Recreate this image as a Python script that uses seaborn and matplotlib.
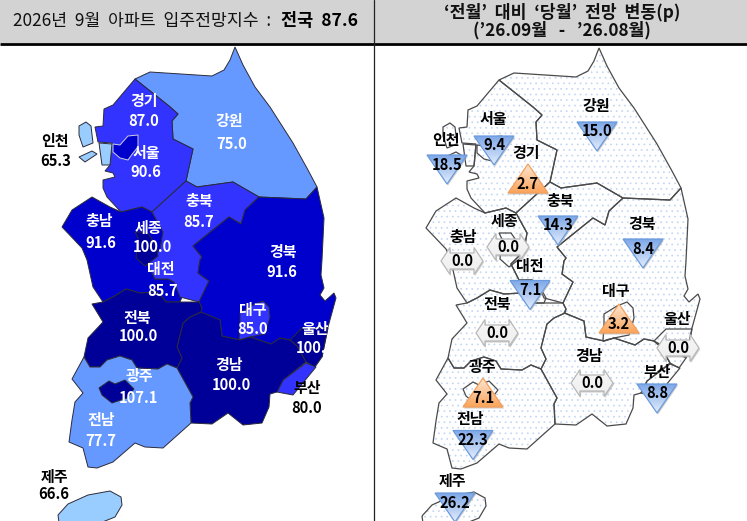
import numpy as np
import pandas as pd
import matplotlib
matplotlib.use("Agg")
import matplotlib.pyplot as plt
from matplotlib.markers import MarkerStyle
from matplotlib.patches import Polygon, Rectangle
from matplotlib.path import Path
import seaborn as sns

sns.set_theme(style="white")
plt.rcParams['font.family'] = ['Noto Sans CJK KR', 'DejaVu Sans']
plt.rcParams['hatch.linewidth'] = 0.5

# ---- data -------------------------------------------------------------
regions = ["강원", "경기", "인천", "충남", "충북", "세종", "대전", "경북", "대구", "울산",
           "부산", "경남", "전북", "전남", "광주", "서울", "제주"]
index_values = [75.0, 87.0, 65.3, 91.6, 85.7, 100.0, 85.7, 91.6, 85.0, 100.0,
                80.0, 100.0, 100.0, 77.7, 107.1, 90.6, 66.6]
changes = [-15.0, 2.7, -18.5, 0.0, -14.3, 0.0, -7.1, -8.4, 3.2, 0.0,
           -8.8, 0.0, 0.0, -22.3, 7.1, -9.4, -26.2]
header_left = "2026년  9월  아파트  입주전망지수  :"
header_left_bold = "전국  87.6"
header_right = ["‘전월’  대비  ‘당월’  전망  변동(p)", "(’26.09월   -   ’26.08월)"]

# region outlines (map geography, in picture pixels)
outline = {
    "강원": [(135,79),(150,72),(212,76),(224,70),(230,60),(235,47),(243,65),(255,87),(270,107),(293,143),(308,170),(317,187),(306,199),(259,197),(233,182),(197,187),(186,181),(193,149),(173,139),(172,121),(178,114),(169,106)],
    "경기": [(135,79),(169,106),(178,114),(172,121),(173,139),(193,149),(186,181),(152,212),(142,207),(121,212),(107,197),(103,188),(103,180),(115,177),(113,173),(105,171),(110,165),(112,143),(98,142),(95,127),(103,126),(104,109),(113,105)],
    "서울": [(113,144),(120,145),(128,136),(138,135),(138,147),(133,153),(128,160),(120,158),(113,152)],
    "인천": [[(79,126),(86,122),(91,126),(93,143),(83,147),(79,135)],[(79,157),(92,151),(97,154),(85,162)],[(99,143),(112,144),(110,165),(102,165)]],
    "충남": [(152,212),(142,207),(121,212),(110,207),(92,197),(72,210),(62,227),(82,248),(87,260),(93,287),(103,302),(113,297),(126,289),(140,293),(157,292),(163,298),(166,302),(180,302),(182,297),(174,282),(168,279),(155,279),(147,263),(160,250),(163,232)],
    "충북": [(186,181),(197,187),(233,182),(259,197),(245,210),(241,224),(229,217),(193,246),(202,257),(200,260),(198,273),(209,281),(199,302),(180,297),(174,282),(168,279),(155,279),(147,263),(160,250),(163,232),(152,212)],
    "세종": [(135,232),(138,238),(136,258),(145,266),(158,256),(156,245),(147,232)],
    "대전": [(147,263),(155,279),(168,279),(163,262),(158,256)],
    "경북": [(259,197),(306,199),(317,187),(324,218),(322,260),(321,275),(324,288),(320,295),(325,301),(334,293),(336,298),(328,327),(322,357),(290,340),(280,338),(271,344),(250,337),(240,340),(222,336),(220,320),(200,312),(202,308),(199,302),(209,281),(198,273),(200,260),(202,257),(193,246),(229,217),(241,224),(245,210)],
    "대구": [(240,313),(253,305),(263,301),(269,307),(270,317),(265,334),(250,337),(239,340),(240,323)],
    "울산": [(290,340),(302,328),(328,328),(322,357),(315,367),(306,362),(297,346)],
    "부산": [(306,363),(316,367),(293,395),(277,392),(283,380)],
    "경남": [(201,312),(220,320),(222,336),(240,340),(250,337),(271,344),(280,338),(290,340),(297,346),(306,362),(283,380),(277,392),(270,394),(269,407),(262,423),(243,425),(228,413),(212,424),(191,423),(190,403),(193,397),(177,368),(182,358),(177,347),(183,323),(190,317)],
    "전북": [(92,304),(103,302),(113,297),(126,289),(140,293),(157,292),(163,298),(166,302),(199,302),(202,308),(201,312),(190,317),(183,323),(177,347),(182,358),(177,368),(167,364),(158,369),(137,368),(132,360),(120,356),(107,360),(100,367),(90,367),(84,357),(88,338),(103,322)],
    "전남": [(84,357),(90,367),(100,367),(107,360),(120,356),(132,360),(137,368),(158,369),(167,364),(177,368),(193,397),(190,403),(191,423),(163,448),(145,447),(135,443),(113,462),(97,468),(88,467),(83,448),(69,442),(72,420),(75,402),(83,393),(72,379)],
    "광주": [(99,388),(109,381),(115,384),(125,380),(134,389),(127,398),(112,403),(102,395)],
    "제주": [(58,515),(68,504),(88,495),(110,491),(121,497),(122,505),(115,517),(100,523),(60,530)],
}

# ---- layout -----------------------------------------------------------
W, H = 747, 521
DX, DY = 364, 1
draw_order = ["강원", "경기", "인천", "충남", "충북", "세종", "경북", "대구", "울산", "부산",
              "경남", "전북", "전남", "광주", "서울", "제주"]
dark_labels = {"인천", "부산", "제주"}
left_name_xy = {"경기": (144,101), "강원": (229,121), "서울": (146,153), "인천": (55,141), "충북": (199,201),
                "충남": (99,221), "세종": (148,228), "경북": (283,252), "대전": (161,269), "대구": (253,310),
                "전북": (137,318), "울산": (315,329), "경남": (229,365), "광주": (139,376), "전남": (101,420),
                "부산": (307,388), "제주": (54,477)}
left_value_xy = {"경기": (144,121), "강원": (232,144), "서울": (146,172), "인천": (56,161), "충북": (199,222),
                 "충남": (101,243), "세종": (152,247), "경북": (282,272), "대전": (163,291), "대구": (253,329),
                 "전북": (138,336), "울산": (315,348), "경남": (231,385), "광주": (138,398), "전남": (101,441),
                 "부산": (307,408), "제주": (54,494)}
right_name_xy = {"강원": (596,106), "서울": (493,119), "경기": (526,153), "인천": (446,140), "충북": (560,201),
                 "경북": (642,224), "세종": (504,221), "충남": (463,237), "대전": (530,266), "전북": (497,304),
                 "대구": (616,291), "울산": (677,319), "경남": (589,356), "부산": (657,372), "광주": (482,367),
                 "전남": (470,419), "제주": (452,481)}
mark_xy = {"강원": (597,136.5), "서울": (494,150.5), "경기": (528,178.5), "인천": (447,169.5), "충북": (558,230.5),
           "경북": (643,253.5), "세종": (508,247), "충남": (462,261), "대전": (530,295), "전북": (497,333),
           "대구": (619,318.5), "울산": (678,348), "경남": (592,383), "부산": (657,398.5), "광주": (483,392.5),
           "전남": (473,445), "제주": (455,507.5)}
value_offset = {"down": -5, "up": 5.5, "flat": 0}
palette = sns.color_palette(["#99CCFF", "#6699FF", "#3333FF", "#0000CC", "#000099"])
bins = [0, 70, 80, 90, 100, 200]

df = pd.DataFrame({"region": regions, "value": index_values, "change": changes})
df["band"] = pd.cut(df["value"], bins=bins, right=False, labels=False)
df["color"] = [palette[b] for b in df["band"]]
df["kind"] = np.select([df["change"] < 0, df["change"] > 0], ["down", "up"], "flat")
df["x"] = [mark_xy[r][0] for r in df["region"]]
df["y"] = [mark_xy[r][1] for r in df["region"]]
df = df.set_index("region", drop=False)

fig = plt.figure(figsize=(W / 100, H / 100), dpi=100)
ax = fig.add_axes([0, 0, 1, 1])
ax.set_xlim(0, W)
ax.set_ylim(H, 0)
ax.axis("off")

# headers
ax.add_patch(Rectangle((0, 0), W, 43, fc="#D3D3D3", ec="none", zorder=0))
ax.plot([0, W], [43.5, 43.5], color="black", lw=2.0, zorder=6, solid_capstyle="butt")
ax.plot([374, 374], [0, H], color="#222222", lw=0.9, zorder=6)
ax.text(13, 21, header_left, fontsize=12.4, color="#111111", va="center", ha="left", zorder=7)
ax.text(358, 21, header_left_bold, fontsize=12.6, fontweight="bold", color="black", va="center", ha="right", zorder=7)
for line, y in zip(header_right, [13, 30]):
    ax.text(562, y, line, fontsize=12.4, fontweight="bold", color="#111111", va="center", ha="center", zorder=7)


def pieces(name):
    o = outline[name]
    return o if isinstance(o[0], list) else [o]


NAME_SIZE, VALUE_SIZE = 10.8, 10.6

# left map
for name in draw_order:
    edge = "#cfcfe0" if name == "서울" else "#2b2b3a"
    for pts in pieces(name):
        ax.add_patch(Polygon(pts, closed=True, fc=df.loc[name, "color"], ec=edge, lw=0.7, zorder=2))
for name in df.index:
    colour = "black" if name in dark_labels else "white"
    ax.text(*left_name_xy[name], name, color=colour, fontsize=NAME_SIZE, fontweight="bold", ha="center", va="center", zorder=5)
    ax.text(*left_value_xy[name], f"{df.loc[name, 'value']:.1f}", color=colour, fontsize=VALUE_SIZE, fontweight="bold",
            ha="center", va="center", zorder=5)

# right map
for name in draw_order:
    for pts in pieces(name):
        shifted = [(x + DX, y + DY) for x, y in pts]
        ax.add_patch(Polygon(shifted, closed=True, fc="white", ec="#c3d6f2", hatch="...", lw=0, zorder=1.5))
for name in draw_order:
    for pts in pieces(name):
        shifted = [(x + DX, y + DY) for x, y in pts]
        ax.add_patch(Polygon(shifted, closed=True, fc="none", ec="#4a4a4a", lw=0.9, zorder=2))

# change markers
TW, TH = 20.0, 14.5
tri_down = np.array([(-TW, -TH), (TW, -TH), (0, TH)])
tri_up = np.array([(-TW, TH), (TW, TH), (0, -TH)])
arrow = np.array([(-21, 0), (-12, -13.5), (-12, -8), (12, -8), (12, -13.5), (21, 0),
                  (12, 13.5), (12, 8), (-12, 8), (-12, 13.5)], dtype=float)
shapes = {"down": tri_down, "up": tri_up, "flat": arrow}
# marker paths are given y-up, the axes run y-down
marker_of = {k: MarkerStyle(Path(np.vstack([v * [1, -1], v[0] * [1, -1]]) / max(abs(v).max(), 1), closed=True))
             for k, v in shapes.items()}
styles = {"down": ("#7FA8E8", "#E3EDFC", "#6B9BDC"),
          "up": ("#FDE6D3", "#FBA45A", "#F2A05C"),
          "flat": ("#F6F6F6", "#EFEFEF", "#B8B8B8")}
for kind, shape in shapes.items():
    sub = df[df["kind"] == kind]
    size = (2 * np.abs(shape[:, 0]).max() * 0.72) ** 2
    shadow = sub.assign(x=sub["x"] + 1, y=sub["y"] + 1.5)
    sns.scatterplot(data=shadow, x="x", y="y", marker=marker_of[kind], s=size, color="#a8a8a8",
                    edgecolor="none", alpha=0.6, ax=ax, legend=False, zorder=3)
    top, bottom, edge = styles[kind]
    c0, c1 = np.array(matplotlib.colors.to_rgb(top)), np.array(matplotlib.colors.to_rgb(bottom))
    ramp = np.linspace(0, 1, 32)[:, None, None] * (c1 - c0)[None, None, :] + c0[None, None, :]
    for _, row in sub.iterrows():
        verts = shape + [row["x"], row["y"]]
        patch = Polygon(verts, closed=True, fc="none", ec=edge, lw=0.9, zorder=4)
        ax.add_patch(patch)
        img = ax.imshow(ramp, extent=(verts[:, 0].min(), verts[:, 0].max(), verts[:, 1].max(), verts[:, 1].min()),
                        aspect="auto", zorder=3.5)
        img.set_clip_path(patch)
        ax.text(row["x"], row["y"] + value_offset[kind], f"{abs(row['change']):.1f}", fontsize=VALUE_SIZE, fontweight="bold",
                color="black", ha="center", va="center", zorder=5)
for name in df.index:
    ax.text(*right_name_xy[name], name, color="black", fontsize=NAME_SIZE, fontweight="bold", ha="center", va="center", zorder=5)

ax.set_xlim(0, W)
ax.set_ylim(H, 0)
ax.set_xlabel("")
ax.set_ylabel("")
fig.savefig("out.png", dpi=100)
